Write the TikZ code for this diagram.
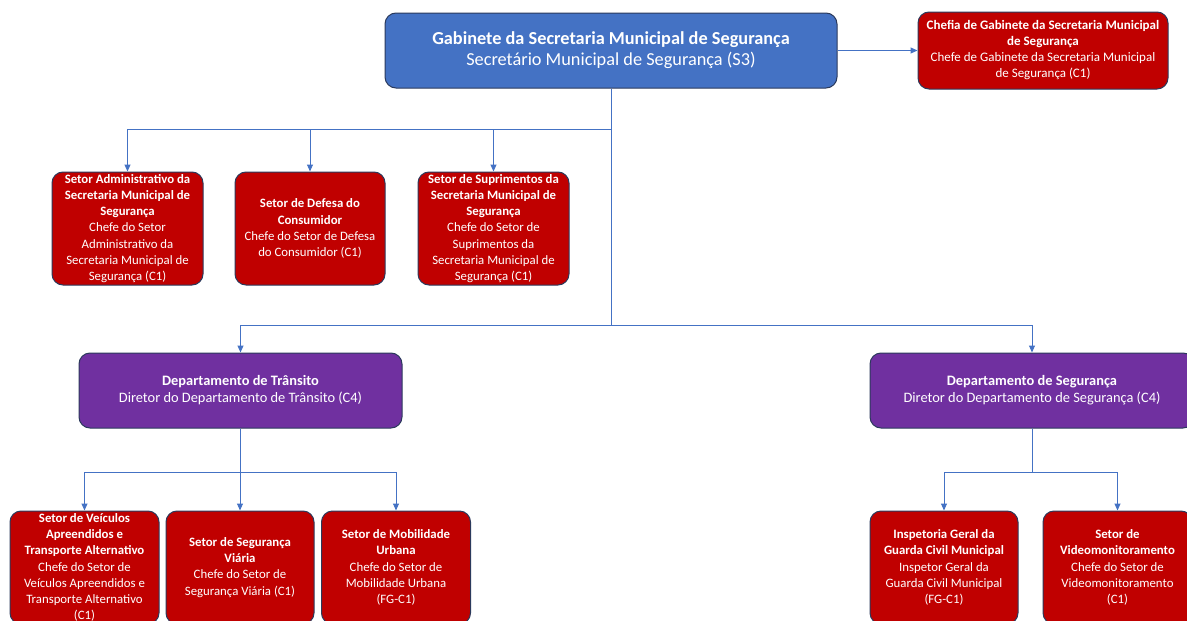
\documentclass[tikz,border=0pt]{standalone}
\usepackage{fontspec}
\setmainfont{Carlito}
\usetikzlibrary{arrows.meta}
\definecolor{boxblue}{HTML}{4472C4}
\definecolor{boxred}{HTML}{C00000}
\definecolor{boxpurple}{HTML}{7030A0}
\definecolor{edgedark}{HTML}{2B3A5C}
\definecolor{wire}{HTML}{4472C4}
\tikzset{
  unit/.style={draw=edgedark, line width=1pt, rounded corners=11pt, text=white,
    align=center, inner sep=0pt},
  cabinet/.style={unit, fill=boxblue, font=\fontsize{18.3}{21}\selectfont},
  office/.style={unit, fill=boxred, font=\fontsize{12.8}{16.2}\selectfont},
  chief/.style={unit, fill=boxred, font=\fontsize{13}{16}\selectfont},
  dept/.style={unit, fill=boxpurple, font=\fontsize{14.4}{17}\selectfont},
  wireline/.style={draw=wire, line width=1pt},
  wirearrow/.style={wireline, -{Triangle[length=7pt,width=6pt]}}
}
\begin{document}
\begin{tikzpicture}[x=1pt,y=-1pt]
\useasboundingbox (0,0) rectangle (1187,621);
\clip (0,0) rectangle (1187,621);

% top level
\node[cabinet, minimum width=452pt, minimum height=75pt] (gab) at (611,50.5)
  {\textbf{Gabinete da Secretaria Municipal de Segurança}\\Secretário Municipal de Segurança (S3)};
\node[chief, minimum width=250pt, minimum height=77pt] (chefia) at (1043,50.5)
  {\textbf{Chefia de Gabinete da Secretaria Municipal}\\\textbf{de Segurança}\\Chefe de Gabinete da Secretaria Municipal\\de Segurança (C1)};

% sectors under the cabinet
\node[office, minimum width=151pt, minimum height=113pt] (adm) at (127.5,228.5)
  {\textbf{Setor Administrativo da}\\\textbf{Secretaria Municipal de}\\\textbf{Segurança}\\Chefe do Setor\\Administrativo da\\Secretaria Municipal de\\Segurança (C1)};
\node[office, minimum width=150pt, minimum height=113pt] (defesa) at (310,228.5)
  {\textbf{Setor de Defesa do}\\\textbf{Consumidor}\\Chefe do Setor de Defesa\\do Consumidor (C1)};
\node[office, minimum width=151pt, minimum height=113pt] (supr) at (493.5,228.5)
  {\textbf{Setor de Suprimentos da}\\\textbf{Secretaria Municipal de}\\\textbf{Segurança}\\Chefe do Setor de\\Suprimentos da\\Secretaria Municipal de\\Segurança (C1)};

% departments
\node[dept, minimum width=323pt, minimum height=75pt] (transito) at (240.5,390.5)
  {\textbf{Departamento de Trânsito}\\Diretor do Departamento de Trânsito (C4)};
\node[dept, minimum width=324pt, minimum height=75pt] (seguranca) at (1032,390.5)
  {\textbf{Departamento de Segurança}\\Diretor do Departamento de Segurança (C4)};

% sectors under the departments
\node[office, minimum width=149pt, minimum height=113pt] (veic) at (84.5,567.5)
  {\textbf{Setor de Veículos}\\\textbf{Apreendidos e}\\\textbf{Transporte Alternativo}\\Chefe do Setor de\\Veículos Apreendidos e\\Transporte Alternativo\\(C1)};
\node[office, minimum width=148pt, minimum height=113pt] (viaria) at (240,567.5)
  {\textbf{Setor de Segurança}\\\textbf{Viária}\\Chefe do Setor de\\Segurança Viária (C1)};
\node[office, minimum width=149pt, minimum height=113pt] (mobil) at (396,567.5)
  {\textbf{Setor de Mobilidade}\\\textbf{Urbana}\\Chefe do Setor de\\Mobilidade Urbana\\(FG-C1)};
\node[office, minimum width=148pt, minimum height=113pt] (insp) at (944,567.5)
  {\textbf{Inspetoria Geral da}\\\textbf{Guarda Civil Municipal}\\Inspetor Geral da\\Guarda Civil Municipal\\(FG-C1)};
\node[office, minimum width=149pt, minimum height=113pt] (video) at (1117.5,567.5)
  {\textbf{Setor de}\\\textbf{Videomonitoramento}\\Chefe do Setor de\\Videomonitoramento\\(C1)};

% bus junctions
\coordinate (busA) at (611,129);
\coordinate (busB) at (611,325);
\coordinate (busC) at (240.5,472);
\coordinate (busD) at (1032,472);

% connectors
\draw[wirearrow] (gab.east) -- (chefia.west);
\draw[wireline] (gab.south) -- (busB);
\draw[wirearrow] (busA) -| (adm.north);
\draw[wirearrow] (busA) -| (defesa.north);
\draw[wirearrow] (busA) -| (supr.north);
\draw[wirearrow] (busB) -| (transito.north);
\draw[wirearrow] (busB) -| (seguranca.north);
\draw[wireline] (transito.south) -- (busC);
\draw[wirearrow] (busC) -| (veic.north);
\draw[wirearrow] (busC) -| (viaria.north);
\draw[wirearrow] (busC) -| (mobil.north);
\draw[wireline] (seguranca.south) -- (busD);
\draw[wirearrow] (busD) -| (insp.north);
\draw[wirearrow] (busD) -| (video.north);
\end{tikzpicture}
\end{document}
